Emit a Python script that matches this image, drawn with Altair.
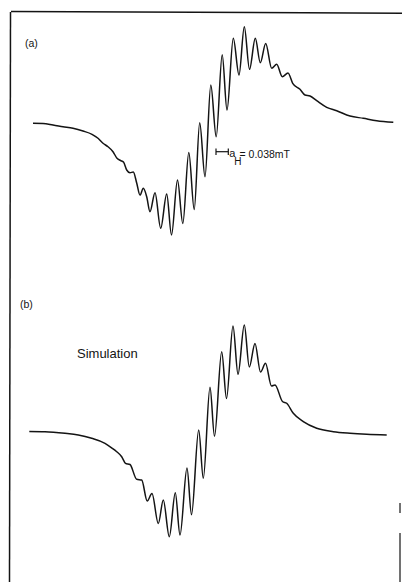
import altair as alt
import pandas as pd

# ---- (a) experimental spectrum: field position (chart units) and signal (arb. units)
field_a = [33, 43, 53, 63, 73, 83, 92, 98, 103, 108, 113, 117, 120.5, 123.5, 126.7, 130,
           133.3, 136.7, 140, 143.3, 146.7, 150, 155, 160.7, 166.7, 171.5, 177.5, 182.8,
           188.8, 194.2, 199.7, 205, 210.8, 216.2, 222.2, 227, 233.3, 239, 244.3, 249.5,
           255.3, 260.3, 265.7, 271.7, 276.7, 282.3, 288, 292.7, 300, 305, 310, 316.7,
           326.7, 336.7, 350, 363.3, 376.7, 393.3]
signal_a = [-0.3, -0.5, -2, -3.7, -5.3, -8, -11.3, -15.3, -20.3, -23.7, -28.7, -35.3, -37.5,
            -39, -47, -49.7, -49, -60, -72, -65.3, -73.7, -88.7, -69.7, -105.3, -71, -112,
            -57, -100.5, -29.5, -86.5, 0.3, -53.7, 38, -13.7, 68.3, 13, 84.7, 48, 96.3, 53.7,
            84.7, 60.3, 79.5, 54.7, 58.7, 46.3, 50, 39.7, 33.7, 28, 27, 22.3, 15.7, 12.3,
            7, 4.7, 2.3, 0.7]

# ---- (b) simulated spectrum
field_b = [29.3, 45, 65, 78.3, 91.7, 105, 112.3, 116.7, 121.7, 125.5, 130, 136.7, 141.7,
           147.2, 152, 158.3, 163.3, 169.3, 175.3, 180, 187, 191.5, 198.7, 203.3, 210, 214.5,
           221.7, 226.5, 233, 238, 244.3, 249.3, 255, 260.5, 265.5, 271.5, 275, 282.5, 286.7,
           293.3, 303.3, 316.7, 333.3, 350, 366.7, 386.7]
signal_b = [0.5, 0.3, -1.3, -3, -6.3, -11.3, -16.3, -19.7, -24.7, -31.3, -32.5, -47.3, -48,
            -69, -61.5, -91.5, -68, -104.7, -60.7, -103, -36, -82.7, 2, -46.3, 44.7, -4.3,
            80.3, 33.5, 106, 57.7, 107, 65, 88.5, 60, 68.7, 46, 47, 30.5, 28.7, 18.7, 10.3,
            3.7, 0.3, -1.3, -2.3, -3]

df_a = pd.DataFrame({"field": field_a, "signal": signal_a})
df_b = pd.DataFrame({"field": field_b, "signal": signal_b})
one = pd.DataFrame({"k": [0]})

# frame / scale-bar segments (page decoration, in pixels)
seg = pd.DataFrame({
    "x1": [11, 10.5, 400, 400, 216, 216, 228.3],
    "y1": [11.6, 12, 503, 533, 151.7, 148.5, 148.5],
    "x2": [402, 9.5, 400, 400, 228.3, 216, 228.3],
    "y2": [13.2, 582, 513, 582, 151.7, 155, 155],
    "w": [1.5, 1.5, 1.2, 1.2, 1.2, 1.2, 1.2],
})

INK = "#141414"
FONT = "Liberation Sans"
W, H = 402, 582

xs = alt.Scale(domain=[0, 402], nice=False, zero=False)


def curve(df, ydom, yrange):
    return alt.Chart(df).mark_line(
        color=INK, strokeWidth=1.5, interpolate="monotone"
    ).encode(
        x=alt.X("field:Q", scale=xs, axis=None),
        y=alt.Y("signal:Q", axis=None,
                scale=alt.Scale(domain=ydom, range=yrange, nice=False, zero=False)),
    )


def label(text, x, y, size):
    return alt.Chart(one).mark_text(
        text=text, font=FONT, fontSize=size, color=INK, align="left", baseline="alphabetic"
    ).encode(x=alt.value(x), y=alt.value(y))


frame = alt.Chart(seg).mark_rule(color=INK).encode(
    x=alt.X("x1:Q", scale=None, axis=None),
    y=alt.Y("y1:Q", scale=None, axis=None),
    x2="x2:Q",
    y2="y2:Q",
    strokeWidth=alt.StrokeWidth("w:Q", scale=None, legend=None),
)

chart = alt.layer(
    curve(df_a, [-157, 123], [280, 0]),
    curve(df_b, [-150, 152], [582, 280]),
    label("(a)", 25, 47, 10.5),
    label("a", 229.3, 157, 11),
    label("H", 234.3, 165, 10),
    label("= 0.038mT", 239.5, 157.5, 10.5),
    label("(b)", 20, 308, 10.5),
    label("Simulation", 77, 358, 13),
    frame,
).resolve_scale(y="independent", x="independent").properties(
    width=W, height=H, padding=0, background="white",
    autosize=alt.AutoSizeParams(type="none"),
).configure_view(stroke=None)

chart.save("out.html", embed_options={"renderer": "svg", "actions": False})
